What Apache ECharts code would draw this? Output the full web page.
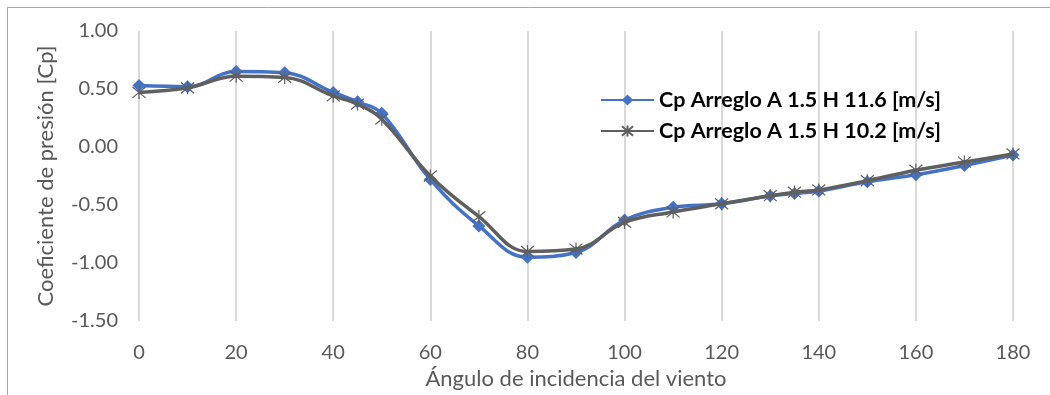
<!DOCTYPE html>
<html>
<head>
<meta charset="utf-8">
<script src="https://cdn.jsdelivr.net/npm/echarts@6/dist/echarts.min.js"></script>
<style>html,body{margin:0;padding:0;background:#fff}#c{width:1050px;height:395px}</style>
</head>
<body>
<div id="c"></div>
<script>
var angles = [0,10,20,30,40,45,50,60,70,80,90,100,110,120,130,135,140,150,160,170,180];
var cpA116 = [0.53,0.52,0.65,0.64,0.47,0.39,0.29,-0.28,-0.68,-0.95,-0.91,-0.63,-0.52,-0.49,-0.42,-0.40,-0.38,-0.30,-0.24,-0.16,-0.07];
var cpA102 = [0.47,0.51,0.61,0.60,0.44,0.37,0.24,-0.25,-0.60,-0.90,-0.88,-0.65,-0.56,-0.49,-0.42,-0.39,-0.37,-0.29,-0.20,-0.13,-0.06];
var seriesNames = ['Cp Arreglo A 1.5 H 11.6 [m/s]', 'Cp Arreglo A 1.5 H 10.2 [m/s]'];
var xTitle = 'Ángulo de incidencia del viento';
var yTitle = 'Coeficiente de presión [Cp]';

function pairs(xs, ys){ return xs.map(function(x,i){ return [x, ys[i]]; }); }

var font = 'Lato, "Open Sans", sans-serif';
var chart = echarts.init(document.getElementById('c'), null, {renderer:'canvas'});
chart.setOption({
  animation: false,
  graphic: [{
    type: 'rect', left: 5, top: 5, silent: true,
    shape: {x:0, y:0, width: 1200, height: 1000},
    style: {fill: 'none', stroke: '#a6a6a6', lineWidth: 1}
  }],
  grid: {left: 139, right: 37, top: 31, bottom: 73},
  legend: {
    orient: 'vertical', left: 595, top: 84, itemWidth: 53, itemHeight: 14, itemGap: 9,
    textStyle: {fontFamily: font, fontWeight: 'bold', fontSize: 21.5, lineHeight: 22, color: '#000'},
    data: seriesNames
  },
  xAxis: {
    type: 'value', min: 0, max: 180, interval: 20,
    name: xTitle, nameLocation: 'middle', nameGap: 47,
    nameTextStyle: {fontFamily: font, fontSize: 22, color: '#595959'},
    axisLine: {show: false}, axisTick: {show: false},
    axisLabel: {fontFamily: font, fontSize: 20, color: '#595959', margin: 22},
    splitLine: {show: true, lineStyle: {color: '#d9d9d9', width: 2}}
  },
  yAxis: {
    type: 'value', min: -1.5, max: 1.0, interval: 0.5,
    name: yTitle, nameLocation: 'middle', nameGap: 82,
    nameTextStyle: {fontFamily: font, fontSize: 22, color: '#595959'},
    axisLine: {show: false}, axisTick: {show: false},
    axisLabel: {fontFamily: font, fontSize: 20, color: '#595959', margin: 21,
      formatter: function(v){ return v.toFixed(2); }},
    splitLine: {show: false}
  },
  series: [{
    name: seriesNames[0], type: 'line', smooth: 0.4,
    data: pairs(angles, cpA116),
    symbol: 'diamond', symbolSize: 13,
    lineStyle: {color: '#4472C4', width: 3.5},
    itemStyle: {color: '#4472C4'},
    z: 2
  }, {
    name: seriesNames[1], type: 'line', smooth: 0.4,
    data: pairs(angles, cpA102),
    symbol: 'path://M0,0 L10,10 M10,0 L0,10 M5,-1 L5,11', symbolSize: 13,
    lineStyle: {color: '#5f5f5f', width: 3.5},
    itemStyle: {color: '#5f5f5f', borderColor: '#5f5f5f', borderWidth: 1.2},
    z: 3
  }]
});
</script>
</body>
</html>
